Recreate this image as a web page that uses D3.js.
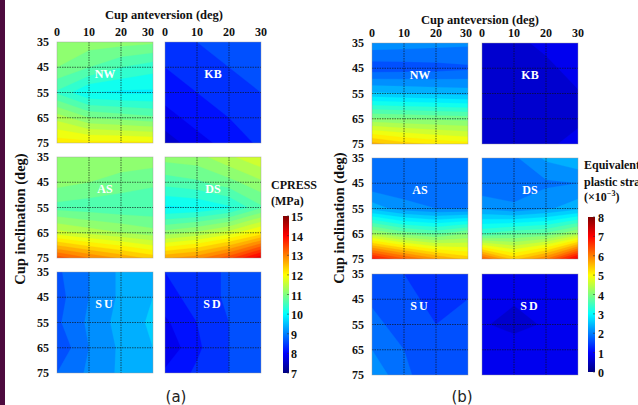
<!DOCTYPE html>
<html>
<head>
<meta charset="utf-8">
<script src="https://cdn.jsdelivr.net/npm/d3@7"></script>
<style>
  body { margin: 0; background: #fff; }
  svg { display: block; }
</style>
</head>
<body>
<div id="chart"></div>
<script>
// --- data (rows = cup inclination 35..75, columns = cup anteversion 0..30) ---
const anteversion = [0, 10, 20, 30];
const inclination = [35, 45, 55, 65, 75];
const panelOrder = [["NW", "KB"], ["AS", "DS"], ["SU", "SD"]];
const cpressTicks = [7, 8, 9, 10, 11, 12, 13, 14, 15];
const strainTicks = [0, 1, 2, 3, 4, 5, 6, 7, 8];

// (a) CPRESS, MPa
const cpressNW = [[11.15, 11.12, 11.1, 11.05], [11.0, 10.75, 10.5, 10.35], [10.45, 10.0, 9.95, 9.95], [11.4, 11.0, 10.9, 10.8], [12.15, 12.1, 12.1, 12.05]];
const cpressKB = [[8.35, 8.5, 8.6, 8.7], [8.25, 8.4, 8.5, 8.6], [8.1, 8.25, 8.4, 8.5], [7.9, 8.1, 8.25, 8.4], [7.6, 7.9, 8.1, 8.3]];
const cpressAS = [[11.15, 11.15, 11.15, 11.15], [11.1, 11.0, 10.9, 10.8], [10.65, 10.6, 10.55, 10.55], [11.6, 11.4, 11.25, 11.1], [13.4, 13.0, 12.7, 12.4]];
const cpressDS = [[11.1, 11.15, 11.45, 11.7], [10.6, 10.7, 10.9, 11.2], [9.95, 10.0, 10.2, 10.7], [11.1, 11.3, 11.6, 12.1], [12.7, 12.9, 13.4, 14.2]];
const cpressSU = [[8.7, 9.0, 9.3, 9.45], [8.65, 9.0, 9.3, 9.5], [8.7, 9.05, 9.35, 9.55], [8.55, 9.0, 9.3, 9.5], [8.75, 9.05, 9.3, 9.45]];
const cpressSD = [[8.25, 8.35, 8.55, 8.65], [8.15, 8.35, 8.55, 8.65], [7.95, 8.25, 8.5, 8.6], [7.8, 8.2, 8.5, 8.6], [8.05, 8.3, 8.5, 8.6]];

// (b) equivalent plastic strain, x10^-3
const strainNW = [[2.15, 2.12, 2.08, 2.05], [1.6, 1.62, 1.65, 1.7], [2.55, 2.5, 2.45, 2.4], [4.05, 4.0, 3.95, 3.9], [5.6, 5.35, 5.2, 5.1]];
const strainKB = [[0.7, 0.72, 0.78, 0.85], [0.65, 0.68, 0.72, 0.8], [0.6, 0.62, 0.68, 0.74], [0.6, 0.62, 0.65, 0.72], [0.65, 0.68, 0.72, 0.8]];
const strainAS = [[1.85, 1.85, 1.85, 1.85], [1.8, 1.82, 1.85, 1.85], [2.4, 2.1, 2.0, 2.0], [4.3, 3.9, 3.7, 4.0], [6.9, 6.3, 5.8, 5.4]];
const strainDS = [[1.9, 1.95, 2.3, 2.45], [1.8, 1.85, 1.95, 2.0], [2.2, 2.05, 2.2, 2.4], [3.5, 3.7, 3.8, 4.3], [6.3, 5.4, 6.0, 7.2]];
const strainSU = [[1.6, 1.5, 1.45, 1.45], [1.7, 1.55, 1.45, 1.5], [1.85, 1.6, 1.5, 1.55], [2.0, 1.75, 1.55, 1.65], [2.2, 1.8, 1.6, 1.6]];
const strainSD = [[0.85, 0.82, 0.85, 0.9], [0.8, 0.76, 0.78, 0.85], [0.76, 0.72, 0.76, 0.82], [0.8, 0.8, 0.82, 0.86], [0.86, 0.88, 0.92, 0.98]];

// jet colormap
const jetStops = [0, 0.125, 0.375, 0.625, 0.875, 1];
const jetColors = ["#000080", "#0000ff", "#00ffff", "#ffff00", "#ff0000", "#800000"];
const jet = d3.scaleLinear().domain(jetStops).range(jetColors).clamp(true);

const serif = "'Liberation Serif', 'DejaVu Serif', serif";

const svg = d3.select("#chart").append("svg")
    .attr("width", 638)
    .attr("height", 405);

// dark strip on the left edge
svg.append("rect").attr("x", 0).attr("y", 0).attr("width", 5).attr("height", 405).attr("fill", "#4d0b3e");

const defs = svg.append("defs");

const figures = [
    {
        id: "a",
        data: { NW: cpressNW, KB: cpressKB, AS: cpressAS, DS: cpressDS, SU: cpressSU, SD: cpressSD },
        domain: [7, 15], ticks: cpressTicks,
        colX: [57, 165], rowY: [42, 157, 272], W: 96, H: 101,
        lastTickShift: -5,
        xTitle: [164, 15], yTitle: [20, 219],
        cbar: { x: 283, y0: 216, y1: 373, w: 6, labelX: 291 },
        cbarTitle: { x: 271, lines: [["CPRESS", 185], ["(MPa)", 201]] },
        caption: [176, 397, "(a)"]
    },
    {
        id: "b",
        data: { NW: strainNW, KB: strainKB, AS: strainAS, DS: strainDS, SU: strainSU, SD: strainSD },
        domain: [0, 8], ticks: strainTicks,
        colX: [372, 482], rowY: [43, 158, 274], W: 96, H: 101,
        lastTickShift: -2,
        xTitle: [480, 20], yTitle: [339, 218],
        cbar: { x: 588, y0: 217, y1: 372, w: 7, labelX: 598 },
        cbarTitle: { x: 584, lines: [["Equivalent", 165], ["plastic strain", 182]] },
        caption: [462, 397, "(b)"]
    }
];

figures.forEach(fig => {
    const step = 0.25;
    const thresholds = d3.range(fig.domain[0], fig.domain[1], step);
    const norm = v => (v - fig.domain[0]) / (fig.domain[1] - fig.domain[0]);

    panelOrder.forEach((row, ri) => {
        row.forEach((name, ci) => {
            const px = fig.colX[ci], py = fig.rowY[ri];
            const x = d3.scaleLinear().domain([0, 30]).range([px, px + fig.W]);
            const y = d3.scaleLinear().domain([35, 75]).range([py, py + fig.H]);
            const values = fig.data[name].flat();

            // grid index -> degrees (values sit at cell centres i + 0.5)
            const proj = d3.geoTransform({
                point(gx, gy) { this.stream.point(x((gx - 0.5) * 10), y(35 + (gy - 0.5) * 10)); }
            });
            const path = d3.geoPath(proj);

            const clipId = `clip-${fig.id}-${name}`;
            defs.append("clipPath").attr("id", clipId)
                .append("rect").attr("x", px).attr("y", py).attr("width", fig.W).attr("height", fig.H);

            const g = svg.append("g").attr("clip-path", `url(#${clipId})`);

            const contours = d3.contours()
                .size([anteversion.length, inclination.length])
                .thresholds(thresholds)(values);

            g.selectAll("path")
                .data(contours)
                .join("path")
                .attr("d", path)
                .attr("fill", d => jet(norm(d.value + step / 2)))
                .attr("stroke", d => jet(norm(d.value + step / 2)))
                .attr("stroke-width", 0.3);

            // dotted grid lines
            g.selectAll("line.v")
                .data(anteversion.slice(1, -1))
                .join("line")
                .attr("x1", d => x(d)).attr("x2", d => x(d))
                .attr("y1", py).attr("y2", py + fig.H)
                .attr("stroke", "#111").attr("stroke-width", 0.9)
                .attr("stroke-dasharray", "1.5,1").attr("opacity", 0.7);
            g.selectAll("line.h")
                .data(inclination.slice(1, -1))
                .join("line")
                .attr("y1", d => y(d)).attr("y2", d => y(d))
                .attr("x1", px).attr("x2", px + fig.W)
                .attr("stroke", "#111").attr("stroke-width", 0.9)
                .attr("stroke-dasharray", "1.5,1").attr("opacity", 0.7);

            svg.append("rect")
                .attr("x", px).attr("y", py).attr("width", fig.W).attr("height", fig.H)
                .attr("fill", "none").attr("stroke", "#999").attr("stroke-width", 0.7).attr("opacity", 0.6);

            // panel label
            svg.append("text")
                .attr("x", px + fig.W / 2).attr("y", py + 32)
                .attr("text-anchor", "middle").attr("dominant-baseline", "central")
                .attr("font-family", serif).attr("font-weight", "bold").attr("font-size", 12)
                .attr("letter-spacing", name.startsWith("S") ? 2 : 0)
                .attr("fill", "#fff")
                .text(name);

            // top tick labels
            if (ri === 0) {
                svg.append("g").selectAll("text")
                    .data(anteversion)
                    .join("text")
                    .attr("x", (d, i) => x(d) + (ci === 0 && i === anteversion.length - 1 ? fig.lastTickShift : 0))
                    .attr("y", py - 10)
                    .attr("text-anchor", "middle").attr("dominant-baseline", "central")
                    .attr("font-family", serif).attr("font-weight", "bold").attr("font-size", 12)
                    .attr("fill", "#111")
                    .text(d => d);
            }
            // left tick labels
            if (ci === 0) {
                svg.append("g").selectAll("text")
                    .data(inclination)
                    .join("text")
                    .attr("x", px - 8)
                    .attr("y", d => y(d))
                    .attr("text-anchor", "end").attr("dominant-baseline", "central")
                    .attr("font-family", serif).attr("font-weight", "bold").attr("font-size", 12)
                    .attr("fill", "#111")
                    .text(d => d);
            }
        });
    });

    // axis titles
    svg.append("text")
        .attr("x", fig.xTitle[0]).attr("y", fig.xTitle[1])
        .attr("text-anchor", "middle").attr("dominant-baseline", "central")
        .attr("font-family", serif).attr("font-weight", "bold").attr("font-size", 12.5)
        .attr("fill", "#111")
        .text("Cup anteversion (deg)");
    svg.append("text")
        .attr("transform", `translate(${fig.yTitle[0]},${fig.yTitle[1]}) rotate(-90)`)
        .attr("text-anchor", "middle").attr("dominant-baseline", "central")
        .attr("font-family", serif).attr("font-weight", "bold").attr("font-size", 14.5)
        .attr("fill", "#111")
        .text("Cup inclination (deg)");

    // colour bar
    const cb = fig.cbar;
    const cy = d3.scaleLinear().domain(fig.domain).range([cb.y1, cb.y0]);
    const gradId = `grad-${fig.id}`;
    const grad = defs.append("linearGradient").attr("id", gradId)
        .attr("x1", 0).attr("x2", 0).attr("y1", 1).attr("y2", 0);
    grad.selectAll("stop")
        .data(jetStops)
        .join("stop")
        .attr("offset", d => d)
        .attr("stop-color", d => jet(d));
    svg.append("rect")
        .attr("x", cb.x).attr("y", cb.y0).attr("width", cb.w).attr("height", cb.y1 - cb.y0)
        .attr("fill", `url(#${gradId})`);
    svg.append("g").selectAll("line")
        .data(fig.ticks)
        .join("line")
        .attr("x1", cb.x + cb.w - 2).attr("x2", cb.x + cb.w)
        .attr("y1", d => cy(d)).attr("y2", d => cy(d))
        .attr("stroke", "#333").attr("stroke-width", 0.6);
    svg.append("g").selectAll("text")
        .data(fig.ticks)
        .join("text")
        .attr("x", cb.labelX).attr("y", d => cy(d) + 1)
        .attr("dominant-baseline", "central")
        .attr("font-family", serif).attr("font-weight", "bold").attr("font-size", 12)
        .attr("fill", "#111")
        .text(d => d);

    fig.cbarTitle.lines.forEach(([txt, ty]) => {
        svg.append("text")
            .attr("x", fig.cbarTitle.x).attr("y", ty)
            .attr("dominant-baseline", "central")
            .attr("font-family", serif).attr("font-weight", "bold").attr("font-size", 12)
            .attr("fill", "#111")
            .text(txt);
    });
    if (fig.id === "b") {
        const t = svg.append("text")
            .attr("x", fig.cbarTitle.x).attr("y", 197)
            .attr("dominant-baseline", "central")
            .attr("font-family", serif).attr("font-weight", "bold").attr("font-size", 12)
            .attr("fill", "#111");
        t.append("tspan").text("(\u00d710");
        t.append("tspan").attr("font-size", 8).attr("dy", -4).text("\u22123");
        t.append("tspan").attr("dy", 4).text(")");
    }

    // caption
    svg.append("text")
        .attr("x", fig.caption[0]).attr("y", fig.caption[1])
        .attr("text-anchor", "middle").attr("dominant-baseline", "central")
        .attr("font-family", "'DejaVu Sans', 'Open Sans', sans-serif").attr("font-size", 15)
        .attr("fill", "#222")
        .text(fig.caption[2]);
});
</script>
</body>
</html>
